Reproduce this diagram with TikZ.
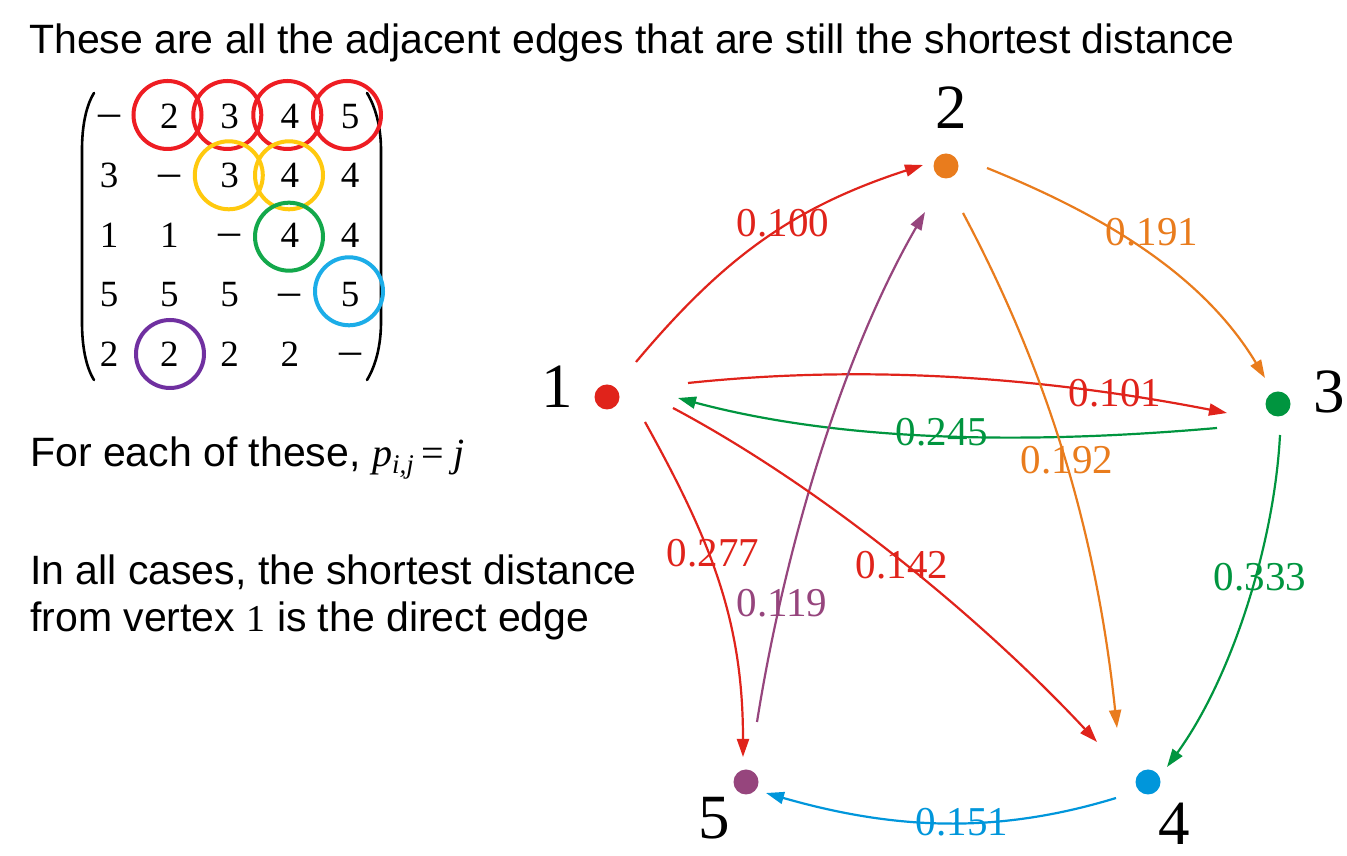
\documentclass[tikz,border=0pt]{standalone}
\usepackage{fontspec}
\setmainfont{Liberation Serif}
\setsansfont{Liberation Sans}
\usetikzlibrary{arrows.meta}
\definecolor{ered}{HTML}{E0231B}
\definecolor{eorange}{HTML}{E97C1D}
\definecolor{egreen}{HTML}{00953F}
\definecolor{eblue}{HTML}{0096DB}
\definecolor{epurple}{HTML}{96457D}
\definecolor{cred}{HTML}{EE1D23}
\definecolor{cyellow}{HTML}{FFC90E}
\definecolor{cgreen}{HTML}{13A84B}
\definecolor{ccyan}{HTML}{1CADE8}
\definecolor{cpurple}{HTML}{7030A0}
\newcommand\mneg{{\fontsize{44}{44}\selectfont\raisebox{1.5pt}{–}}}
\begin{document}
\begin{tikzpicture}[x=1pt,y=1pt,
  vdot/.style={circle,inner sep=0pt,minimum size=25pt,draw=none},
  conn/.style={line width=2.2pt,-{Triangle[length=18pt,width=12pt]}},
  wlabel/.style={inner sep=0pt,font=\fontsize{41}{41}\selectfont},
  vlabel/.style={inner sep=0pt,font=\fontsize{63}{63}\selectfont},
  txt/.style={inner sep=0pt,anchor=base west,font=\sffamily\fontsize{41}{49}\selectfont},
  entry/.style={inner sep=0pt,anchor=base,font=\fontsize{37}{37}\selectfont},
  ring/.style={line width=4pt},
  paren/.style={line width=2.6pt,line cap=round}
]
\useasboundingbox[fill=white] (0,0) rectangle (1347,856);

% texts
\node[txt] (title) at (29,856-54) {These are all the adjacent edges that are still the shortest distance};
\node[txt] (t1) at (30,856-466.5) {For each of these, {\rmfamily\fontsize{40}{42}\selectfont\itshape p\raisebox{-7pt}{\fontsize{27}{28}\selectfont i,j}\hspace{8pt}\upshape=\hspace{9pt}\itshape j}};
\node[txt] (t2) at (30,856-585) {In all cases, the shortest distance};
\node[txt] (t3) at (30,856-632) {from vertex {\rmfamily\fontsize{38}{40}\selectfont 1} is the direct edge};

% matrix
\foreach \v [count=\i from 0] in {\mneg,2,3,4,5,3,\mneg,3,4,4,1,1,\mneg,4,4,5,5,5,\mneg,5,2,2,2,2,\mneg} {
  \pgfmathtruncatemacro\r{div(\i,5)+1}
  \pgfmathtruncatemacro\c{mod(\i,5)+1}
  \node[entry] (m\r\c) at ({109+60.25*(\c-1)},{856-128.5-59.5*(\r-1)}) {\v};
}
\draw[paren] (94,856-93) .. controls (86,856-106) and (82,856-126) .. (82,856-150) -- (82,856-322) .. controls (82,856-347) and (86,856-367) .. (94,856-380);
\draw[paren] (367,856-93) .. controls (375,856-106) and (381,856-126) .. (381,856-150) -- (381,856-322) .. controls (381,856-347) and (375,856-367) .. (367,856-380);

% rings
\draw[ring,cred] (167.5,856-115) circle[radius=34];
\draw[ring,cred] (227.3,856-115) circle[radius=34];
\draw[ring,cred] (287.3,856-115) circle[radius=34];
\draw[ring,cred] (347,856-115) circle[radius=34];
\draw[ring,cyellow] (228.8,856-175.3) circle[radius=34];
\draw[ring,cyellow] (289,856-175.3) circle[radius=34];
\draw[ring,cgreen] (289,856-236.7) circle[radius=34];
\draw[ring,ccyan] (349,856-291.3) circle[radius=34];
\draw[ring,cpurple] (170,856-354) circle[radius=34];

% vertices
\node[vdot,fill=ered] (n1) at (607,856-397) {};
\node[vdot,fill=eorange] (n2) at (946,856-166) {};
\node[vdot,fill=egreen] (n3) at (1278,856-404) {};
\node[vdot,fill=eblue] (n4) at (1148,856-782) {};
\node[vdot,fill=epurple] (n5) at (746,856-782) {};
\node[vlabel] (v1) at (557,856-387) {1};
\node[vlabel] (v2) at (951,856-108) {2};
\node[vlabel] (v3) at (1329,856-392) {3};
\node[vlabel] (v4) at (1174,856-824) {4};
\node[vlabel] (v5) at (714,856-818) {5};

% edges
\draw[conn,ered] ([shift={(29,35)}]n1.center) to[out=50,in=198] ([shift={(-23,1)}]n2.center);
\draw[conn,eorange] ([shift={(41,-2)}]n2.center) to[out=-22,in=121,looseness=0.9] ([shift={(-13,26)}]n3.center);
\draw[conn,ered] ([shift={(81,14)}]n1.center) to[out=6,in=169,looseness=0.87] ([shift={(-51,-9)}]n3.center);
\draw[conn,egreen] ([shift={(-61,-24)}]n3.center) to[out=185,in=-15,looseness=0.84] ([shift={(71,-1)}]n1.center);
\draw[conn,eorange] ([shift={(17,-47)}]n2.center) to[out=-62,in=96,looseness=0.9] ([shift={(-31,54)}]n4.center);
\draw[conn,egreen] ([shift={(2,-31)}]n3.center) to[out=-93,in=54,looseness=0.8] ([shift={(19,15)}]n4.center);
\draw[conn,ered] ([shift={(38,-25)}]n1.center) to[out=-61,in=90] ([shift={(-3,25)}]n5.center);
\draw[conn,epurple] ([shift={(11,60)}]n5.center) to[out=81,in=240,looseness=0.81] ([shift={(-21,-46)}]n2.center);
\draw[conn,ered] ([shift={(66,-11)}]n1.center) to[out=-28,in=133,looseness=0.8] ([shift={(-51,40)}]n4.center);
\draw[conn,eblue] ([shift={(-32,-16)}]n4.center) to[out=197,in=-16,looseness=0.94] ([shift={(20,-11)}]n5.center);

% weights
\node[wlabel,text=ered] (w12) at (783,856-223) {0.100};
\node[wlabel,text=eorange] (w23) at (1152,856-232) {0.191};
\node[wlabel,text=ered] (w13) at (1115,856-393) {0.101};
\node[wlabel,text=egreen] (w31) at (942,856-432) {0.245};
\node[wlabel,text=eorange] (w24) at (1067,856-460) {0.192};
\node[wlabel,text=egreen] (w34) at (1260,856-577) {0.333};
\node[wlabel,text=ered] (w15) at (713,856-553) {0.277};
\node[wlabel,text=epurple] (w52) at (782,856-603) {0.119};
\node[wlabel,text=ered] (w14) at (902,856-565) {0.142};
\node[wlabel,text=eblue] (w45) at (962,856-822) {0.151};
\end{tikzpicture}
\end{document}
